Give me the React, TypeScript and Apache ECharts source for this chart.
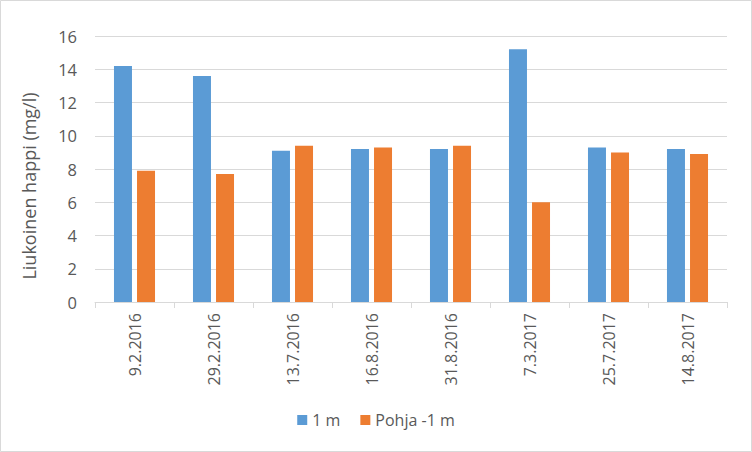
import React, { useEffect, useRef } from "react";
import * as echarts from "echarts";

const categories = ["9.2.2016", "29.2.2016", "13.7.2016", "16.8.2016", "31.8.2016", "7.3.2017", "25.7.2017", "14.8.2017"];
const series1m = [14.2, 13.6, 9.1, 9.2, 9.2, 15.2, 9.3, 9.2];
const seriesPohja = [7.9, 7.7, 9.4, 9.3, 9.4, 6.0, 9.0, 8.9];
const seriesNames = ["1 m", "Pohja -1 m"];
const yAxisTitle = "Liukoinen happi (mg/l)";

const FONT = "'Open Sans', sans-serif";
const TXT = "#595959";

export default function App() {
  const ref = useRef<HTMLDivElement>(null);
  useEffect(() => {
    if (!ref.current) return;
    const chart = echarts.init(ref.current, null, { renderer: "svg" });
    chart.setOption({
      animation: false,
      backgroundColor: "#ffffff",
      textStyle: { fontFamily: FONT },
      graphic: [
        {
          type: "rect",
          shape: { x: 0.5, y: 0.5, width: 751, height: 451 },
          style: { fill: "none", stroke: "#d9d9d9", lineWidth: 1 },
          silent: true,
        },
      ],
      grid: { left: 95, right: 25, top: 36, bottom: 150 },
      legend: {
        data: seriesNames,
        bottom: 19,
        left: "center",
        icon: "rect",
        itemWidth: 10,
        itemHeight: 10,
        itemGap: 20,
        textStyle: { color: TXT, fontSize: 16, fontFamily: FONT },
      },
      xAxis: {
        type: "category",
        data: categories,
        axisLine: { lineStyle: { color: "#d9d9d9" } },
        axisTick: { show: true, length: 6, lineStyle: { color: "#d9d9d9" } },
        axisLabel: { rotate: 90, color: TXT, fontSize: 16, fontFamily: FONT, margin: 11, interval: 0 },
      },
      yAxis: {
        type: "value",
        min: 0,
        max: 16,
        interval: 2,
        name: yAxisTitle,
        nameLocation: "middle",
        nameGap: 57,
        nameTextStyle: { color: TXT, fontSize: 18, fontFamily: FONT, padding: [0, 34, 0, 0] },
        axisLine: { show: false },
        axisTick: { show: false },
        axisLabel: { color: TXT, fontSize: 16.5, fontFamily: FONT, margin: 18 },
        splitLine: { lineStyle: { color: "#d9d9d9" } },
      },
      series: [
        {
          name: seriesNames[0],
          type: "bar",
          data: series1m,
          barWidth: 18,
          barGap: "28%",
          itemStyle: { color: "#5b9bd5" },
        },
        {
          name: seriesNames[1],
          type: "bar",
          data: seriesPohja,
          barWidth: 18,
          barGap: "28%",
          itemStyle: { color: "#ed7d31" },
        },
      ],
    });
    return () => chart.dispose();
  }, []);
  return (
    <div
      ref={ref}
      style={{ position: "fixed", left: 0, top: 0, width: 752, height: 452 }}
    />
  );
}
